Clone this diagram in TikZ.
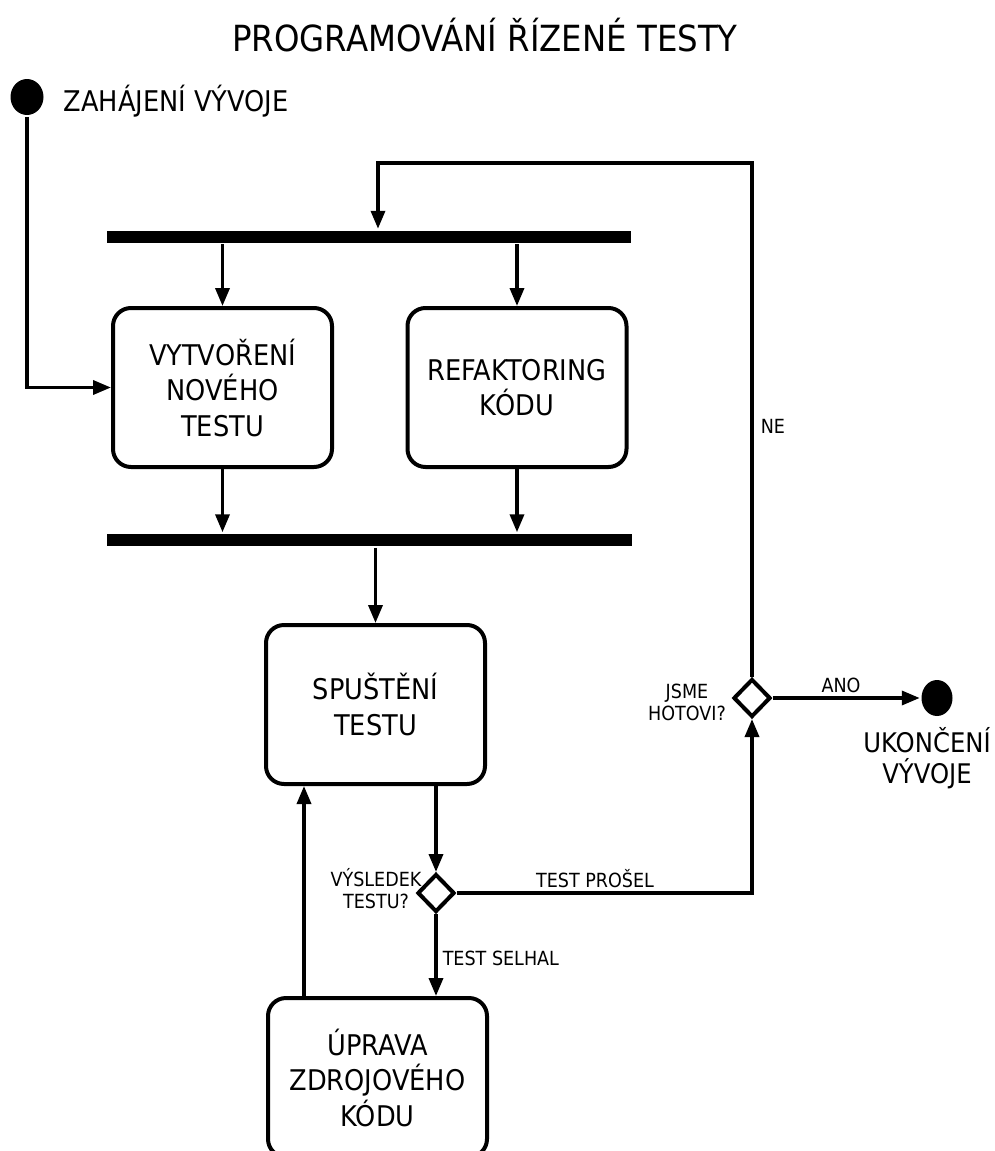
\documentclass[tikz,border=0pt]{standalone}
\usepackage{fontspec}
\setmainfont{DejaVu Sans}[FakeStretch=0.9]
\usetikzlibrary{arrows.meta,shapes.geometric,calc}
\newcommand\titlefnt{\fontsize{36}{42}\selectfont}
\newcommand\bigfnt{\fontsize{28.5}{35.5}\selectfont}
\newcommand\startfnt{\fontsize{28.5}{32}\selectfont}
\newcommand\stopfnt{\fontsize{27}{31}\selectfont}
\newcommand\smfnt{\fontsize{19.5}{22}\selectfont}
\begin{document}
\begin{tikzpicture}[x=1pt,y=-1pt,
  line width=3.5pt,
  arr/.style={-{Triangle[length=18pt,width=14pt]}},
  act/.style={draw,rounded corners=18pt,line width=4pt,minimum width=219pt,minimum height=159pt,align=center,inner sep=0pt,font=\bigfnt},
  bar/.style={fill=black,inner sep=0pt,minimum height=12pt},
  dec/.style={diamond,draw,fill=white,line width=4pt,minimum width=37pt,minimum height=38pt,inner sep=0pt},
  lbl/.style={font=\smfnt,inner sep=0pt},
  term/.style={ellipse,fill=black,minimum width=33pt,minimum height=36pt,inner sep=0pt}
]
\useasboundingbox (0,0) rectangle (995,1151);
\node[font=\titlefnt,anchor=base,inner sep=0pt] (title) at (485,51) {PROGRAMOVÁNÍ ŘÍZENÉ TESTY};
\node[term] (start) at (27,97) {};
\node[anchor=base west,font=\startfnt,inner sep=0pt] (startlbl) at (62,111) {ZAHÁJENÍ VÝVOJE};
\node[bar,minimum width=524pt] (bar1) at (369,236.5) {};
\node[bar,minimum width=525pt] (bar2) at (369.5,540) {};
\node[act] (box1) at (222.5,387.5) {VYTVOŘENÍ\\NOVÉHO\\TESTU};
\node[act] (box2) at (517,387.5) {REFAKTORING\\KÓDU};
\node[act] (box3) at (375.5,704.5) {SPUŠTĚNÍ\\TESTU};
\node[act] (box4) at (377.5,1077.5) {ÚPRAVA\\ZDROJOVÉHO\\KÓDU};
\node[dec] (d1) at (436,893) {};
\node[dec] (d2) at (752,698) {};
\node[term,minimum width=31pt] (endc) at (937,698) {};
\node[lbl,align=center] (d1lbl) at (376,889) {VÝSLEDEK\\TESTU?};
\node[lbl,align=center] (d2lbl) at (687,702) {JSME\\HOTOVI?};
\node[lbl,anchor=base] (ano) at (841,692) {ANO};
\node[lbl,anchor=base] (prosel) at (595,887) {TEST PROŠEL};
\node[lbl,anchor=base west] (selhal) at (441,965) {TEST SELHAL};
\node[lbl,anchor=base west] (ne) at (759,433) {NE};
\node[font=\stopfnt,align=center,inner sep=0pt] (endlbl) at (927,758) {UKONČENÍ\\VÝVOJE};
% connectors
\draw[arr] (start.south) |- (box1.west);
\coordinate (looptop) at (378,163);
\draw[arr] (d2.north) |- (looptop) -- (looptop |- bar1.north);
\draw[arr] (box1.north |- bar1.south) -- (box1.north);
\draw[arr] (box2.north |- bar1.south) -- (box2.north);
\draw[arr] (box1.south) -- (box1.south |- bar2.north);
\draw[arr] (box2.south) -- (box2.south |- bar2.north);
\draw[arr] (box3.north |- bar2.south) -- (box3.north);
\draw[arr] (d1.north |- box3.south) -- (d1.north);
\draw[arr] (d1.east) -| (d2.south);
\draw[arr] (d1.south) -- (d1.south |- box4.north);
\coordinate (upx) at (304,0);
\draw[arr] (upx |- box4.north) -- (upx |- box3.south);
\draw[arr] (d2.east) -- (endc.west);
\end{tikzpicture}
\end{document}
